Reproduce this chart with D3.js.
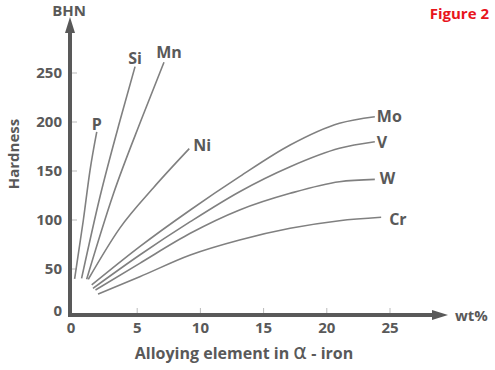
<!DOCTYPE html>
<html lang="en">
<head>
    <meta charset="UTF-8">
    <title>Figure 2</title>
    <script src="https://cdn.jsdelivr.net/npm/d3@7"></script>
    <style>
        body { margin: 0; background: #fff; }
        text { font-family: "Open Sans", sans-serif; font-weight: 700; fill: #595959; }
    </style>
</head>
<body>
<div id="chart"></div>
<script type="text/javascript">
    // ticks
    var xTicks = [0, 5, 10, 15, 20, 25];
    var yTicks = [0, 50, 100, 150, 200, 250];

    // series (wt% vs BHN)
    var names = ['P', 'Si', 'Mn', 'Ni', 'Mo', 'V', 'W', 'Cr'];
    var pX  = [0.05, 0.74, 1.27, 1.8];
    var pY  = [40, 100, 151, 190];
    var siX = [0.6, 2.06, 3.64, 4.83];
    var siY = [40.5, 124, 201.5, 256.5];
    var mnX = [1.0, 3.1, 5.36, 7.12];
    var mnY = [39.5, 126, 203.5, 261];
    var niX = [1.13, 3.64, 6.27, 9.12];
    var niY = [39.5, 92, 132.7, 172.8];
    var moX = [1.4, 5.2, 9.2, 13.1, 17.1, 21.0, 23.8];
    var moY = [33.7, 72.8, 110.2, 144.2, 176.5, 198.7, 205.4];
    var vX  = [1.5, 5.2, 9.2, 13.1, 17.1, 21.0, 23.8];
    var vY  = [30.3, 64.3, 98.3, 128.9, 154.4, 173.2, 179.9];
    var wX  = [1.7, 5.2, 9.2, 13.1, 17.1, 21.0, 23.8];
    var wY  = [28.6, 55.8, 86.4, 110.2, 127.2, 139.1, 141.5];
    var crX = [1.9, 5.2, 9.2, 13.1, 17.1, 21.0, 24.3];
    var crY = [24.5, 42.1, 64.3, 79.6, 91.5, 99.3, 102.8];

    var seriesX = [pX, siX, mnX, niX, moX, vX, wX, crX];
    var seriesY = [pY, siY, mnY, niY, moY, vY, wY, crY];

    var svgw = 495, svgh = 370;
    var svg = d3.select('#chart')
        .append('svg')
        .attr('width', svgw)
        .attr('height', svgh);

    var x = d3.scaleLinear().domain([0, 25]).range([74, 390]);
    var y = d3.scaleLinear().domain([0, 250]).range([318, 73]);

    var axisColor = '#595959';
    var x0 = 70, y0 = 315;

    // tick marks
    svg.selectAll('.xt')
        .data(xTicks.slice(1))
        .enter()
        .append('line')
        .attr('x1', function (d) { return x(d); })
        .attr('x2', function (d) { return x(d); })
        .attr('y1', y0 - 2)
        .attr('y2', y0 - 7)
        .attr('stroke', '#bbb')
        .attr('stroke-width', 1);

    svg.selectAll('.yt')
        .data(yTicks.slice(1))
        .enter()
        .append('line')
        .attr('x1', x0 + 2)
        .attr('x2', x0 + 7)
        .attr('y1', function (d) { return y(d); })
        .attr('y2', function (d) { return y(d); })
        .attr('stroke', '#bbb')
        .attr('stroke-width', 1);

    // axes
    svg.append('line')
        .attr('x1', x0).attr('y1', y0 + 2)
        .attr('x2', x0).attr('y2', 30)
        .attr('stroke', axisColor).attr('stroke-width', 4);
    svg.append('path')
        .attr('d', 'M' + (x0 - 5) + ',33 L' + x0 + ',17 L' + (x0 + 5) + ',33 Z')
        .attr('fill', axisColor);
    svg.append('line')
        .attr('x1', x0 - 2).attr('y1', y0)
        .attr('x2', 434).attr('y2', y0)
        .attr('stroke', axisColor).attr('stroke-width', 4);
    svg.append('path')
        .attr('d', 'M432,' + (y0 - 5) + ' L448,' + y0 + ' L432,' + (y0 + 5) + ' Z')
        .attr('fill', axisColor);

    // tick labels
    svg.selectAll('.xl')
        .data(xTicks)
        .enter()
        .append('text')
        .text(function (d) { return d; })
        .attr('x', function (d) { return d === 0 ? x0 + 1 : x(d); })
        .attr('y', 333)
        .attr('text-anchor', 'middle')
        .attr('font-size', 15);

    svg.selectAll('.yl')
        .data(yTicks)
        .enter()
        .append('text')
        .text(function (d) { return d; })
        .attr('x', 62)
        .attr('y', function (d) { return d === 0 ? 316 : y(d) + 5; })
        .attr('text-anchor', 'end')
        .attr('font-size', 15);

    // axis titles
    svg.append('text').text('BHN')
        .attr('x', 69).attr('y', 16)
        .attr('text-anchor', 'middle').attr('font-size', 15);
    svg.append('text').text('wt%')
        .attr('x', 455).attr('y', 321)
        .attr('font-size', 15);
    svg.append('text').text('Hardness')
        .attr('transform', 'translate(19,154) rotate(-90)')
        .attr('text-anchor', 'middle').attr('font-size', 15);
    var xt = svg.append('text')
        .attr('x', 244).attr('y', 359)
        .attr('text-anchor', 'middle').attr('font-size', 16);
    xt.append('tspan').text('Alloying element in  ');
    xt.append('tspan').text('\u03b1').attr('font-family', 'DejaVu Sans')
        .attr('font-weight', 400).attr('font-size', 21);
    xt.append('tspan').text(' - iron');

    svg.append('text').text('Figure 2')
        .attr('x', 489).attr('y', 19)
        .attr('text-anchor', 'end').attr('font-size', 15)
        .style('fill', '#e8141c');

    // curves
    var line = d3.line()
        .x(function (d) { return x(d[0]); })
        .y(function (d) { return y(d[1]); })
        .curve(d3.curveMonotoneX);

    var series = names.map(function (n, i) {
        return { name: n, pts: d3.zip(seriesX[i], seriesY[i]) };
    });

    svg.selectAll('.curve')
        .data(series)
        .enter()
        .append('path')
        .attr('d', function (d) { return line(d.pts); })
        .attr('fill', 'none')
        .attr('stroke', '#808080')
        .attr('stroke-width', 1.6);

    // label offsets from the end of each curve (px)
    var labelOff = {
        P: [-5, -2, 'start'], Si: [0, -3, 'middle'], Mn: [5, -4, 'middle'], Ni: [4, 2, 'start'],
        Mo: [2, 5, 'start'], V: [2, 6, 'start'], W: [5, 5, 'start'], Cr: [8, 8, 'start']
    };

    svg.selectAll('.lab')
        .data(series)
        .enter()
        .append('text')
        .text(function (d) { return d.name; })
        .attr('x', function (d) { return x(d.pts[d.pts.length - 1][0]) + labelOff[d.name][0]; })
        .attr('y', function (d) { return y(d.pts[d.pts.length - 1][1]) + labelOff[d.name][1]; })
        .attr('text-anchor', function (d) { return labelOff[d.name][2]; })
        .attr('font-size', 16);
</script>
</body>
</html>
